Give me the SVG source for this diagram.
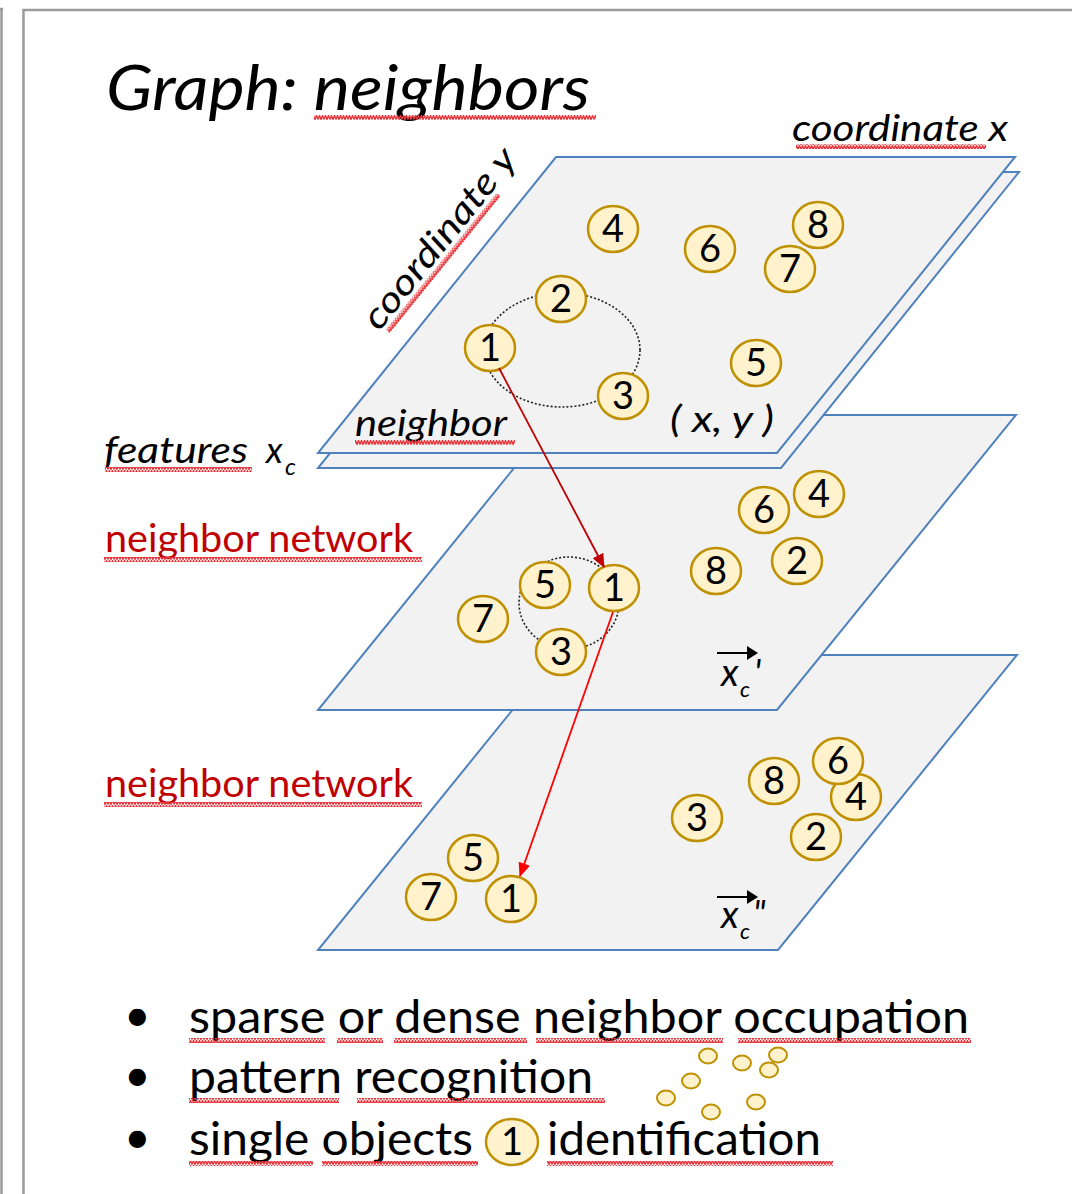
<svg xmlns="http://www.w3.org/2000/svg" width="1072" height="1194" viewBox="0 0 1072 1194">
<defs>
<style>
.frame{stroke:#9a9a9a;stroke-width:2.5;fill:none}
.plane{fill:#f2f2f2;stroke:#4f81bd;stroke-width:2}
.nd{fill:#fff2cc;stroke:#bf9000;stroke-width:2.5}
.dig{font-family:Lato,"Liberation Sans",sans-serif;font-size:38px;fill:#000;text-anchor:middle}
.it{font-family:Lato,"Liberation Sans",sans-serif;font-style:italic;fill:#000}
.red{font-family:Lato,"Liberation Sans",sans-serif;fill:#c00000;font-size:38px}
.bul{font-family:Lato,"Liberation Sans",sans-serif;fill:#000;font-size:46px}
.dot{fill:none;stroke:#222;stroke-width:1.6;stroke-dasharray:2 2}
.sq{fill:url(#sq)}
.pt{fill:#fff2cc;stroke:#bf9000;stroke-width:2}
</style>
<pattern id="sq" width="6" height="5" patternUnits="userSpaceOnUse">
<path d="M0,4.5 L1.5,0.5 L3,4.5 L4.5,0.5 L6,4.5" fill="none" stroke="#e8343a" stroke-width="1.4"/>
</pattern>
<marker id="ah1" markerWidth="14" markerHeight="12" refX="13" refY="6" orient="auto" markerUnits="userSpaceOnUse">
<path d="M0,0 L14,6 L0,12 Z" fill="#c00000"/>
</marker>
<marker id="ah2" markerWidth="14" markerHeight="12" refX="13" refY="6" orient="auto" markerUnits="userSpaceOnUse">
<path d="M0,0 L14,6 L0,12 Z" fill="#ff0000"/>
</marker>
</defs>
<rect width="1072" height="1194" fill="#ffffff"/>
<g id="frame">
<path class="frame" d="M1.5,8 V1194 M0,9 H3"/>
<path class="frame" d="M23.5,1194 V10 H1072"/>
</g>
<g id="title">
<text class="it" x="106" y="110" font-size="63" textLength="484" lengthAdjust="spacingAndGlyphs">Graph: neighbors</text>
<rect class="sq" x="314" y="115" width="282" height="5"/>
</g>
<g id="plane-bottom">
<polygon class="plane" points="318,950 778,950 1017,655 557,655"/>
</g>
<g id="nodes-bottom">
<g id="bot-4"><ellipse class="nd" cx="856" cy="797" rx="25" ry="23"/><text class="dig" x="856" y="810">4</text></g>
<g id="bot-6"><ellipse class="nd" cx="838" cy="761" rx="25" ry="23"/><text class="dig" x="838" y="774">6</text></g>
<g id="bot-8"><ellipse class="nd" cx="774" cy="781" rx="25" ry="23"/><text class="dig" x="774" y="794">8</text></g>
<g id="bot-3"><ellipse class="nd" cx="697" cy="818" rx="25" ry="23"/><text class="dig" x="697" y="831">3</text></g>
<g id="bot-2"><ellipse class="nd" cx="816" cy="837" rx="25" ry="23"/><text class="dig" x="816" y="850">2</text></g>
<g id="bot-5"><ellipse class="nd" cx="473" cy="858" rx="25" ry="23"/><text class="dig" x="473" y="871">5</text></g>
<g id="bot-7"><ellipse class="nd" cx="431" cy="897" rx="25" ry="23"/><text class="dig" x="431" y="910">7</text></g>
<g id="bot-1"><ellipse class="nd" cx="511" cy="899" rx="25" ry="23"/><text class="dig" x="511" y="912">1</text></g>
</g>
<g id="label-xc2">
<path d="M717,897 H752" stroke="#000" stroke-width="2.2"/>
<path d="M747,890 L758,897 L747,904 Z" fill="#000"/>
<text class="it" x="721" y="928" font-size="38">x</text>
<text class="it" x="740" y="939" font-size="22">c</text>
<text class="it" x="753" y="927" font-size="36">"</text>
</g>
<g id="plane-middle">
<polygon class="plane" points="318,710 777,710 1016,415 557,415"/>
</g>
<g id="nodes-middle">
<ellipse class="dot" cx="569" cy="603" rx="50" ry="46"/>
<g id="mid-4"><ellipse class="nd" cx="819" cy="494" rx="25" ry="23"/><text class="dig" x="819" y="507">4</text></g>
<g id="mid-6"><ellipse class="nd" cx="764" cy="510" rx="25" ry="23"/><text class="dig" x="764" y="523">6</text></g>
<g id="mid-2"><ellipse class="nd" cx="797" cy="561" rx="25" ry="23"/><text class="dig" x="797" y="574">2</text></g>
<g id="mid-8"><ellipse class="nd" cx="716" cy="571" rx="25" ry="23"/><text class="dig" x="716" y="584">8</text></g>
<g id="mid-5"><ellipse class="nd" cx="545" cy="585" rx="25" ry="23"/><text class="dig" x="545" y="598">5</text></g>
<g id="mid-1"><ellipse class="nd" cx="614" cy="588" rx="25" ry="23"/><text class="dig" x="614" y="601">1</text></g>
<g id="mid-7"><ellipse class="nd" cx="483" cy="619" rx="25" ry="23"/><text class="dig" x="483" y="632">7</text></g>
<g id="mid-3"><ellipse class="nd" cx="561" cy="652" rx="25" ry="23"/><text class="dig" x="561" y="665">3</text></g>
</g>
<g id="label-xc1">
<path d="M717,653 H752" stroke="#000" stroke-width="2.2"/>
<path d="M747,646 L758,653 L747,660 Z" fill="#000"/>
<text class="it" x="721" y="686" font-size="38">x</text>
<text class="it" x="740" y="697" font-size="22">c</text>
<text class="it" x="754" y="686" font-size="36">'</text>
</g>
<g id="plane-top-back">
<polygon class="plane" points="318,468 781,468 1019,172 556,172"/>
</g>
<g id="plane-top">
<polygon class="plane" points="318,453 777,453 1015,157 556,157"/>
</g>
<g id="nodes-top">
<ellipse class="dot" cx="562" cy="350" rx="78" ry="57"/>
<g id="top-4"><ellipse class="nd" cx="613" cy="229" rx="25" ry="23"/><text class="dig" x="613" y="242">4</text></g>
<g id="top-6"><ellipse class="nd" cx="710" cy="249" rx="25" ry="23"/><text class="dig" x="710" y="262">6</text></g>
<g id="top-8"><ellipse class="nd" cx="818" cy="225" rx="25" ry="23"/><text class="dig" x="818" y="238">8</text></g>
<g id="top-7"><ellipse class="nd" cx="790" cy="269" rx="25" ry="23"/><text class="dig" x="790" y="282">7</text></g>
<g id="top-2"><ellipse class="nd" cx="561" cy="299" rx="25" ry="23"/><text class="dig" x="561" y="312">2</text></g>
<g id="top-1"><ellipse class="nd" cx="490" cy="348" rx="25" ry="23"/><text class="dig" x="490" y="361">1</text></g>
<g id="top-3"><ellipse class="nd" cx="623" cy="396" rx="25" ry="23"/><text class="dig" x="623" y="409">3</text></g>
<g id="top-5"><ellipse class="nd" cx="756" cy="363" rx="25" ry="23"/><text class="dig" x="756" y="376">5</text></g>
</g>
<g id="labels">
<text class="it" x="792" y="141" font-size="36" textLength="216" lengthAdjust="spacingAndGlyphs">coordinate x</text>
<rect class="sq" x="796" y="144" width="190" height="5"/>
<g transform="translate(379,332) rotate(-51)">
<text class="it" x="0" y="0" font-size="36" textLength="222" lengthAdjust="spacingAndGlyphs">coordinate y</text>
<rect class="sq" x="6" y="4" width="176" height="5"/>
</g>
<text class="it" x="355" y="436" font-size="36" textLength="152" lengthAdjust="spacingAndGlyphs">neighbor</text>
<rect class="sq" x="355" y="440" width="160" height="5"/>
<text class="it" x="670" y="432" font-size="36" textLength="104" lengthAdjust="spacingAndGlyphs">( x, y )</text>
<text class="it" x="104" y="463" font-size="36" textLength="144" lengthAdjust="spacingAndGlyphs">features</text>
<rect class="sq" x="105" y="467" width="147" height="5"/>
<text class="it" x="266" y="463" font-size="36">x</text>
<text class="it" x="285" y="475" font-size="24">c</text>
<text class="red" x="105" y="552" textLength="308" lengthAdjust="spacingAndGlyphs">neighbor network</text>
<rect class="sq" x="104" y="557" width="318" height="5"/>
<text class="red" x="105" y="797" textLength="308" lengthAdjust="spacingAndGlyphs">neighbor network</text>
<rect class="sq" x="104" y="802" width="318" height="5"/>
</g>
<g id="connectors">
<line x1="499" y1="368" x2="604" y2="567" stroke="#c00000" stroke-width="1.8" marker-end="url(#ah1)"/>
<line x1="613" y1="612" x2="520" y2="876" stroke="#ff0000" stroke-width="1.8" marker-end="url(#ah2)"/>
</g>
<g id="bullets">
<text class="bul" x="124" y="1031" font-size="38">•</text>
<text class="bul" x="124" y="1091" font-size="38">•</text>
<text class="bul" x="124" y="1153" font-size="38">•</text>
<text class="bul" x="189" y="1033" textLength="780" lengthAdjust="spacingAndGlyphs">sparse or dense neighbor occupation</text>
<rect class="sq" x="189" y="1038" width="136" height="5"/>
<rect class="sq" x="337" y="1038" width="46" height="5"/>
<rect class="sq" x="394" y="1038" width="133" height="5"/>
<rect class="sq" x="536" y="1038" width="187" height="5"/>
<rect class="sq" x="738" y="1038" width="233" height="5"/>
<text class="bul" x="189" y="1093" textLength="404" lengthAdjust="spacingAndGlyphs">pattern recognition</text>
<rect class="sq" x="189" y="1098" width="150" height="5"/>
<rect class="sq" x="357" y="1098" width="248" height="5"/>
<text class="bul" x="189" y="1155" textLength="284" lengthAdjust="spacingAndGlyphs">single objects</text>
<rect class="sq" x="189" y="1161" width="124" height="5"/>
<rect class="sq" x="322" y="1161" width="156" height="5"/>
<g id="inline-1"><ellipse class="nd" cx="512" cy="1142" rx="26" ry="23"/><text class="dig" x="512" y="1155">1</text></g>
<text class="bul" x="547" y="1155" textLength="274" lengthAdjust="spacingAndGlyphs">identification</text>
<rect class="sq" x="547" y="1161" width="286" height="5"/>
</g>
<g id="pattern-dots">
<ellipse class="pt" cx="708" cy="1056" rx="9" ry="7.5"/>
<ellipse class="pt" cx="742" cy="1063" rx="9" ry="7.5"/>
<ellipse class="pt" cx="769" cy="1070" rx="9" ry="7.5"/>
<ellipse class="pt" cx="778" cy="1055" rx="9" ry="7.5"/>
<ellipse class="pt" cx="691" cy="1081" rx="9" ry="7.5"/>
<ellipse class="pt" cx="666" cy="1098" rx="9" ry="7.5"/>
<ellipse class="pt" cx="756" cy="1102" rx="9" ry="7.5"/>
<ellipse class="pt" cx="711" cy="1112" rx="9" ry="7.5"/>
</g>
</svg>
